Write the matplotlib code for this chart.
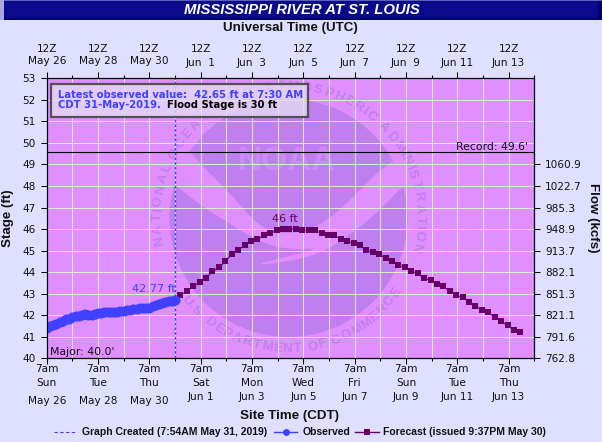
import matplotlib
matplotlib.use('Agg')
import matplotlib.pyplot as plt
import numpy as np
import pandas as pd
from matplotlib.font_manager import FontProperties
from matplotlib.patches import Circle, Polygon, Rectangle
from matplotlib.textpath import TextPath
from matplotlib.transforms import Affine2D, blended_transform_factory

W, H = 602, 442
PAGE = '#DFDFFF'
PLOT_BG = '#DF8FFF'
LOGO = '#BF7FEF'
LOGO_TEXT = '#C27FF0'
NOAA_TEXT = '#D08AF8'
GRID = '#D6ECD6'
BLUE = '#4040FF'
PURPLE = '#660066'

# stage in feet, every 3 hours from 7am May 26
observed_stage = [41.42, 41.48, 41.55, 41.60, 41.67, 41.75, 41.81, 41.84, 41.90, 41.95,
                  41.96, 42.00, 42.04, 42.00, 42.03, 42.08, 42.12, 42.12, 42.13, 42.13,
                  42.13, 42.14, 42.15, 42.18, 42.21, 42.22, 42.23, 42.27, 42.29, 42.33,
                  42.34, 42.34, 42.35, 42.42, 42.47, 42.50, 42.55, 42.62, 42.66, 42.68,
                  42.71]
# stage in feet, every 6 hours from noon May 31
forecast_stage = [42.92, 43.11, 43.34, 43.53, 43.71, 44.04, 44.22, 44.50, 44.83, 45.01,
                  45.24, 45.43, 45.52, 45.71, 45.80, 45.94, 46.00, 46.00, 46.00, 45.94,
                  45.94, 45.94, 45.80, 45.71, 45.71, 45.52, 45.43, 45.34, 45.24, 45.01,
                  44.92, 44.83, 44.64, 44.50, 44.32, 44.22, 44.04, 43.94, 43.71, 43.62,
                  43.43, 43.34, 43.11, 42.92, 42.83, 42.60, 42.41, 42.23, 42.13, 41.90,
                  41.72, 41.53, 41.30, 41.21]

observed_time = pd.date_range('2019-05-26 07:00', periods=len(observed_stage), freq='3h')
forecast_time = pd.date_range('2019-05-31 12:00', periods=len(forecast_stage), freq='6h')
created_time = pd.Timestamp('2019-05-31 07:00')
record_stage = 49.6

stage_ticks = list(range(40, 54))
flow_ticks = list(range(40, 50))
flow_labels = ['762.8', '791.6', '821.1', '851.3', '882.1', '913.7', '948.9', '985.3', '1022.7', '1060.9']
major_days = pd.date_range('2019-05-26 07:00', periods=10, freq='2D')
minor_days = pd.date_range('2019-05-26 07:00', periods=20, freq='D')
weekdays = ['Sun', 'Tue', 'Thu', 'Sat', 'Mon', 'Wed', 'Fri', 'Sun', 'Tue', 'Thu']
date_labels = ['May 26', 'May 28', 'May 30', 'Jun 1', 'Jun 3', 'Jun 5', 'Jun 7', 'Jun 9', 'Jun 11', 'Jun 13']
top_labels = ['May 26', 'May 28', 'May 30', 'Jun  1', 'Jun  3', 'Jun  5', 'Jun  7', 'Jun  9', 'Jun 11', 'Jun 13']

fig = plt.figure(figsize=(W / 100, H / 100), dpi=100, facecolor=PAGE)
L, R, T, B = 46.7, 534.3, 78.3, 358.3
ax = fig.add_axes([L / W, 1 - B / H, (R - L) / W, (B - T) / H], facecolor=PLOT_BG)
px = Affine2D().scale(1 / W, -1 / H).translate(0, 1) + fig.transFigure


def ftext(x, y, s, **kw):
    kw.setdefault('ha', 'center')
    kw.setdefault('va', 'center')
    return fig.text(x / W, 1 - y / H, s, **kw)


def ring_angles(text, start, end):
    # spread letters along the arc by their own widths
    prop = FontProperties(family='Liberation Sans', weight='bold')
    widths = []
    for ch in text:
        if ch == ' ':
            widths.append(3.0)
        else:
            widths.append(TextPath((0, 0), ch, size=10, prop=prop).get_extents().width + 1.0)
    widths = np.array(widths)
    pos = np.cumsum(widths) - widths / 2
    pos = (pos - pos[0]) / (pos[-1] - pos[0])
    return start + (end - start) * pos


def smooth(points, rounds=2):
    # corner cutting so the wave has no straight facets
    pts = np.array(points, dtype=float)
    for _ in range(rounds):
        nxt = np.roll(pts, -1, axis=0)
        pts = np.column_stack([0.75 * pts + 0.25 * nxt, 0.25 * pts + 0.75 * nxt]).reshape(-1, 2)
    return pts


# title bar
fig.add_artist(Rectangle((0, 0), 602, 20, transform=px, fc='#000060', ec='none'))
fig.add_artist(Rectangle((0, 1), 598, 17, transform=px, fc='#0A0A8C', ec='none'))
fig.add_artist(Rectangle((0, 0), 602, 1, transform=px, fc='#6060B8', ec='none'))
fig.add_artist(Rectangle((0, 0), 4, 20, transform=px, fc='#A8A8E0', ec='none'))
ftext(302, 10, 'MISSISSIPPI RIVER AT ST. LOUIS', color='white', family='Liberation Sans',
      weight='bold', style='italic', fontsize=10.7)

# NOAA logo behind the grid
cx, cy, rad = 288.5, 218, 119
ax.add_patch(Circle((cx, cy), rad, transform=px, fc=LOGO, ec='none', zorder=0.1))
wave = [(40, -20), (130, 80), (200, 150), (245, 200), (280, 240), (320, 268), (360, 280), (415, 277),
        (470, 260), (520, 225), (560, 190), (610, 140), (660, 90), (720, 50), (800, 60), (800, 130),
        (735, 130), (680, 190), (620, 245), (560, 290), (500, 330), (430, 355), (350, 370), (280, 375),
        (380, 350), (480, 325), (410, 328), (350, 322), (280, 295), (200, 245), (120, 195), (40, 130),
        (-20, 100)]
wave_px = smooth([(160 + a / 3, 140 + b / 3) for a, b in wave])
ax.add_patch(Polygon(wave_px, closed=True, transform=px, fc=PLOT_BG, ec='none', zorder=0.15))
ax.text(287, 161.5, 'NOAA', transform=px, ha='center', va='center', color=NOAA_TEXT,
        family='Liberation Sans', weight='bold', fontsize=24, zorder=0.2)

top_ring = 'NATIONAL OCEANIC AND ATMOSPHERIC ADMINISTRATION'
bottom_ring = 'U.S. DEPARTMENT OF COMMERCE'
ring_r = 131
for ch, ang in zip(top_ring, ring_angles(top_ring, 190, -13)):
    a = np.radians(ang)
    ax.text(cx + ring_r * np.cos(a), cy - ring_r * np.sin(a), ch, transform=px, rotation=ang - 90,
            rotation_mode='anchor', ha='center', va='center', color=LOGO_TEXT,
            family='Liberation Sans', weight='bold', fontsize=9.5, zorder=0.2)
for ch, ang in zip(bottom_ring, ring_angles(bottom_ring, 219, 325)):
    a = np.radians(ang)
    ax.text(cx + ring_r * np.cos(a), cy - ring_r * np.sin(a), ch, transform=px, rotation=ang + 90,
            rotation_mode='anchor', ha='center', va='center', color=LOGO_TEXT,
            family='Liberation Sans', weight='bold', fontsize=9.5, zorder=0.2)

# axes and grid
ax.set_xlim(minor_days[0], pd.Timestamp('2019-06-14 07:00'))
ax.set_ylim(40, 53)
ax.set_xticks(major_days)
ax.set_xticks(minor_days, minor=True)
ax.set_xticklabels([])
ax.set_yticks(stage_ticks)
ax.set_yticklabels([str(v) for v in stage_ticks], fontsize=7.6, color='#111111')
ax.grid(True, which='both', color=GRID, lw=0.72, zorder=0.5)
ax.set_axisbelow(True)
ax.tick_params(axis='x', which='major', top=True, bottom=True, length=4.6, width=0.75)
ax.tick_params(axis='x', which='minor', top=True, bottom=True, length=2.5, width=0.75)
ax.tick_params(axis='y', length=4.6, width=0.75, pad=3.5)
for s in ax.spines.values():
    s.set_linewidth(0.8)

ax2 = ax.twinx()
ax2.set_ylim(40, 53)
ax2.set_yticks(flow_ticks)
ax2.set_yticklabels(flow_labels, fontsize=7.6, color='#111111')
ax2.tick_params(axis='y', length=4.4, width=0.75, pad=3.5)
for s in ax2.spines.values():
    s.set_linewidth(0.8)

# data
ax.axhline(record_stage, color='black', lw=0.8, zorder=2)
ax.axvline(created_time, color=BLUE, lw=1.0, ls=(0, (2, 1.4)), zorder=2)
ax.plot(forecast_time, forecast_stage, color=PURPLE, lw=0.8, marker='s', ms=3.9, mew=0, zorder=3)
ax.plot(observed_time, observed_stage, color=BLUE, lw=1, marker='o', ms=7.2, mew=0, zorder=4)

ax.text(528, 147, "Record: 49.6'", transform=px, ha='right', va='center', fontsize=7.8, color='#111111', zorder=5)
ax.text(50, 352, "Major: 40.0'", transform=px, ha='left', va='center', fontsize=7.8, color='#111111', zorder=5)
ax.text(176, 289, '42.77 ft', transform=px, ha='right', va='center', fontsize=8, color=BLUE, zorder=5)
ax.text(285, 219, '46 ft', transform=px, ha='center', va='center', fontsize=8, color=PURPLE, zorder=5)

# info box, the logo and grid show faintly through it
ax.add_patch(Rectangle((51, 83.5), 256.5, 33, transform=px, fc=(0.89, 0.85, 0.95, 0.82), ec='#555055',
                       lw=1.6, zorder=6))
ax.text(58, 94.5, 'Latest observed value:  42.65 ft at 7:30 AM', transform=px, ha='left', va='center',
        color=BLUE, family='DejaVu Sans', weight='bold', fontsize=7.2, zorder=7)
ax.text(58, 105.5, 'CDT 31-May-2019.', transform=px, ha='left', va='center',
        color=BLUE, family='DejaVu Sans', weight='bold', fontsize=7.2, zorder=7)
ax.text(167, 105.5, 'Flood Stage is 30 ft', transform=px, ha='left', va='center',
        color='black', family='DejaVu Sans', weight='bold', fontsize=7.2, zorder=7)

# stacked tick labels top and bottom
tr = blended_transform_factory(ax.transData, fig.transFigure)
for d, wd, lab, top in zip(major_days, weekdays, date_labels, top_labels):
    is_may = lab.startswith('May')
    for y, s in [(369, '7am'), (383, wd), (401 if is_may else 397, lab),
                 (49, '12Z'), (61.5 if is_may else 63, top)]:
        ax.text(d, 1 - y / H, s, transform=tr, ha='center', va='center', fontsize=7.6, color='#111111',
                clip_on=False)

bold = dict(family='Liberation Sans', weight='bold', color='#111111')
ftext(290, 28, 'Universal Time (UTC)', fontsize=9.6, **bold)
ftext(290, 416.5, 'Site Time (CDT)', fontsize=9.6, **bold)
ftext(8, 218, 'Stage (ft)', rotation=90, fontsize=9.6, **bold)
ftext(593, 218, 'Flow (kcfs)', rotation=270, fontsize=9.6, **bold)

# legend drawn by hand along the bottom row
fig.add_artist(plt.Line2D([54, 75], [432, 432], transform=px, color=BLUE, lw=0.8, ls=(0, (3, 2.2))))
fig.add_artist(plt.Line2D([274, 297], [432, 432], transform=px, color=BLUE, lw=1))
fig.add_artist(plt.Line2D([285.5], [432], transform=px, color=BLUE, marker='o', ms=5, mew=0))
fig.add_artist(plt.Line2D([355, 379], [432, 432], transform=px, color=PURPLE, lw=1))
fig.add_artist(plt.Line2D([366.5], [432], transform=px, color=PURPLE, marker='s', ms=3.9, mew=0))
small = dict(family='Liberation Sans', weight='bold', color='#111111', fontsize=7.5, ha='left')
ftext(82, 432, 'Graph Created (7:54AM May 31, 2019)', **small)
ftext(303, 432, 'Observed', **small)
ftext(383, 432, 'Forecast (issued 9:37PM May 30)', **small)

fig.savefig('out.png', dpi=100, facecolor=PAGE)
